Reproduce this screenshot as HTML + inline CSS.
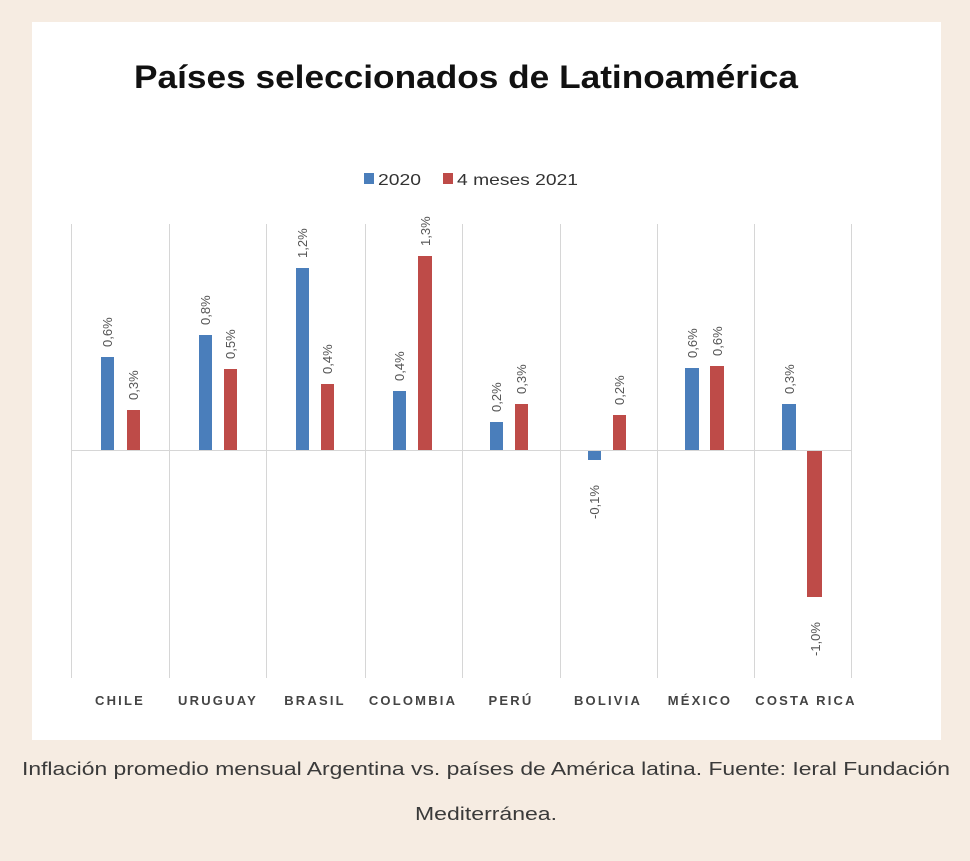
<!DOCTYPE html>
<html><head><meta charset="utf-8"><style>
html,body{margin:0;padding:0;background:#f6ece2;width:970px;height:861px;overflow:hidden}
svg{position:absolute;left:0;top:0}
</style></head><body>
<svg width="970" height="861" xmlns="http://www.w3.org/2000/svg" font-family="Liberation Sans, sans-serif">
<rect x="32" y="22" width="909" height="718" fill="#fff"/>
<text x="466" y="88" text-anchor="middle" font-size="32" font-weight="bold" fill="#111" textLength="664" lengthAdjust="spacingAndGlyphs">Países seleccionados de Latinoamérica</text>
<rect x="364" y="173" width="10" height="11" fill="#4a7ebb"/>
<text x="378" y="185" font-size="16" fill="#333" textLength="43" lengthAdjust="spacingAndGlyphs">2020</text>
<rect x="443" y="173" width="10" height="11" fill="#be4b48"/>
<text x="457" y="185" font-size="16" fill="#333" textLength="121" lengthAdjust="spacingAndGlyphs">4 meses 2021</text>
<g stroke="#d6d6d6" stroke-width="1">
<line x1="71.5" y1="224" x2="71.5" y2="678"/><line x1="169.5" y1="224" x2="169.5" y2="678"/>
<line x1="266.5" y1="224" x2="266.5" y2="678"/><line x1="365.5" y1="224" x2="365.5" y2="678"/>
<line x1="462.5" y1="224" x2="462.5" y2="678"/><line x1="560.5" y1="224" x2="560.5" y2="678"/>
<line x1="657.5" y1="224" x2="657.5" y2="678"/><line x1="754.5" y1="224" x2="754.5" y2="678"/>
<line x1="851.5" y1="224" x2="851.5" y2="678"/>
<line x1="71" y1="450.5" x2="851" y2="450.5"/>
</g>
<g fill="#4a7ebb">
<rect x="101" y="357" width="13" height="93"/><rect x="199" y="335" width="13" height="115"/>
<rect x="296" y="268" width="13" height="182"/><rect x="393" y="391" width="13" height="59"/>
<rect x="490" y="422" width="13" height="28"/><rect x="588" y="451" width="13" height="9"/>
<rect x="685" y="368" width="14" height="82"/><rect x="782" y="404" width="14" height="46"/>
</g>
<g fill="#be4b48">
<rect x="127" y="410" width="13" height="40"/><rect x="224" y="369" width="13" height="81"/>
<rect x="321" y="384" width="13" height="66"/><rect x="418" y="256" width="14" height="194"/>
<rect x="515" y="404" width="13" height="46"/><rect x="613" y="415" width="13" height="35"/>
<rect x="710" y="366" width="14" height="84"/><rect x="807" y="451" width="15" height="146"/>
</g>
<g font-size="13" fill="#555">
<text transform="translate(112,347) rotate(-90)">0,6%</text>
<text transform="translate(138,400) rotate(-90)">0,3%</text>
<text transform="translate(210,325) rotate(-90)">0,8%</text>
<text transform="translate(235,359) rotate(-90)">0,5%</text>
<text transform="translate(307,258) rotate(-90)">1,2%</text>
<text transform="translate(332,374) rotate(-90)">0,4%</text>
<text transform="translate(404,381) rotate(-90)">0,4%</text>
<text transform="translate(430,246) rotate(-90)">1,3%</text>
<text transform="translate(501,412) rotate(-90)">0,2%</text>
<text transform="translate(526,394) rotate(-90)">0,3%</text>
<text transform="translate(599,519) rotate(-90)">-0,1%</text>
<text transform="translate(624,405) rotate(-90)">0,2%</text>
<text transform="translate(697,358) rotate(-90)">0,6%</text>
<text transform="translate(722,356) rotate(-90)">0,6%</text>
<text transform="translate(794,394) rotate(-90)">0,3%</text>
<text transform="translate(820,656) rotate(-90)">-1,0%</text>
</g>
<g font-size="13" fill="#444" font-weight="bold" letter-spacing="2.2" text-anchor="middle">
<text x="120" y="705">CHILE</text><text x="218" y="705">URUGUAY</text>
<text x="315" y="705">BRASIL</text><text x="413" y="705">COLOMBIA</text>
<text x="511" y="705">PERÚ</text><text x="608" y="705">BOLIVIA</text>
<text x="700" y="705">MÉXICO</text><text x="806" y="705">COSTA RICA</text>
</g>
<text x="22" y="775" font-size="18" fill="#3a3a3a" textLength="928" lengthAdjust="spacingAndGlyphs">Inflación promedio mensual Argentina vs. países de América latina. Fuente: Ieral Fundación</text>
<text x="415" y="820" font-size="18" fill="#3a3a3a" textLength="142" lengthAdjust="spacingAndGlyphs">Mediterránea.</text>
</svg>
</body></html>
